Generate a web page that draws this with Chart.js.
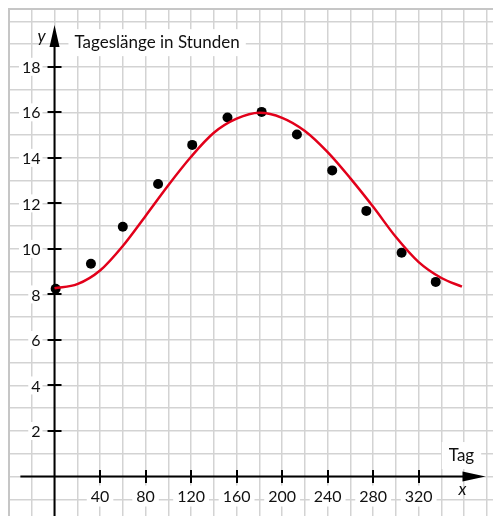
<!DOCTYPE html>
<html>
<head>
<meta charset="utf-8">
<script src="https://cdn.jsdelivr.net/npm/chart.js@4"></script>
<style>
  body { margin: 0; background: #fff; }
  canvas { display: block; }
</style>
</head>
<body>
<canvas id="grafico" width="493" height="516"></canvas>
<script>
// Messwerte (Tag des Jahres, Tageslänge in Stunden)
var messTage = [1, 32, 60, 91, 121, 152, 182, 213, 244, 274, 305, 335];
var messStunden = [8.25, 9.35, 10.97, 12.85, 14.57, 15.77, 16.02, 15.03, 13.45, 11.67, 9.83, 8.55];

var kurveTage = [0, 20, 40, 60, 80, 100, 120, 140, 160, 180, 200, 220, 240, 260, 280, 300, 320, 340, 358];
var kurveStunden = [8.27, 8.45, 9.05, 10.13, 11.45, 12.8, 14.05, 15.1, 15.72, 15.98, 15.76, 15.18, 14.25, 13.1, 11.85, 10.52, 9.42, 8.72, 8.34];

// Achsenbeschriftung
var xBeschriftung = [40, 80, 120, 160, 200, 240, 280, 320];
var yBeschriftung = [2, 4, 6, 8, 10, 12, 14, 16, 18];
var titel = 'Tageslänge in Stunden';

var schrift = 'Lato, "Open Sans", sans-serif';

var achsen = {
  id: 'achsen',
  beforeDatasetsDraw: function(chart) {
    var ctx = chart.ctx, a = chart.chartArea;
    var sx = chart.scales.x, sy = chart.scales.y;
    var x0 = sx.getPixelForValue(0), y0 = sy.getPixelForValue(0);
    ctx.save();

    // Rahmen
    ctx.strokeStyle = '#c6c6c6';
    ctx.lineWidth = 2;
    ctx.strokeRect(a.left, a.top, a.right - a.left + 5, a.bottom - a.top + 5);

    ctx.font = '16px ' + schrift;
    ctx.textBaseline = 'middle';

    // x-Beschriftung
    ctx.textAlign = 'center';
    xBeschriftung.forEach(function(v) {
      var px = sx.getPixelForValue(v);
      var w = ctx.measureText(String(v)).width;
      ctx.fillStyle = '#fff';
      ctx.fillRect(px - w / 2 - 4, y0 + 9, w + 8, 21);
      ctx.fillStyle = '#111';
      ctx.fillText(String(v), px, y0 + 20);
    });

    // y-Beschriftung
    ctx.textAlign = 'right';
    yBeschriftung.forEach(function(v) {
      var py = sy.getPixelForValue(v);
      var w = ctx.measureText(String(v)).width;
      ctx.fillStyle = '#fff';
      ctx.fillRect(x0 - 14 - w - 3, py - 9, w + 5, 18);
      ctx.fillStyle = '#111';
      ctx.fillText(String(v), x0 - 14, py + 1);
    });

    // Titel
    ctx.font = '17px ' + schrift;
    ctx.textAlign = 'left';
    ctx.textBaseline = 'alphabetic';
    var tx = sx.getPixelForValue(17.5), ty = sy.getPixelForValue(18.82);
    var tw = ctx.measureText(titel).width;
    ctx.fillStyle = '#fff';
    ctx.fillRect(tx - 6, ty - 19, tw + 12, 27);
    ctx.fillStyle = '#111';
    ctx.fillText(titel, tx, ty);

    // "Tag"
    ctx.textAlign = 'center';
    var gx = sx.getPixelForValue(357.6), gy = sy.getPixelForValue(0.68);
    var gw = ctx.measureText('Tag').width;
    ctx.fillStyle = '#fff';
    ctx.fillRect(gx - gw / 2 - 7, gy - 19, gw + 14, 27);
    ctx.fillStyle = '#111';
    ctx.fillText('Tag', gx, gy);

    // Variablen
    ctx.font = 'italic 17px ' + schrift;
    ctx.fillText('y', x0 - 13, sy.getPixelForValue(19.1));
    ctx.fillText('x', sx.getPixelForValue(358.5), y0 + 18);

    // Achsen
    ctx.strokeStyle = '#000';
    ctx.fillStyle = '#000';
    ctx.lineWidth = 2;
    var yTip = sy.getPixelForValue(19.84);
    var xTip = sx.getPixelForValue(378.7);
    var xStart = sx.getPixelForValue(-30);
    ctx.beginPath();
    ctx.moveTo(x0, a.bottom);
    ctx.lineTo(x0, yTip + 10);
    ctx.moveTo(xStart, y0);
    ctx.lineTo(xTip - 10, y0);
    // Striche
    xBeschriftung.forEach(function(v) {
      var px = Math.round(sx.getPixelForValue(v));
      ctx.moveTo(px, y0 - 6.5);
      ctx.lineTo(px, y0 + 6.5);
    });
    yBeschriftung.forEach(function(v) {
      var py = Math.round(sy.getPixelForValue(v));
      ctx.moveTo(x0 - 7, py);
      ctx.lineTo(x0 + 7, py);
    });
    ctx.stroke();

    // Pfeilspitzen
    ctx.beginPath();
    ctx.moveTo(x0, yTip);
    ctx.lineTo(x0 - 5, yTip + 22);
    ctx.lineTo(x0 + 5, yTip + 22);
    ctx.closePath();
    ctx.moveTo(xTip, y0);
    ctx.lineTo(xTip - 23, y0 - 5);
    ctx.lineTo(xTip - 23, y0 + 5);
    ctx.closePath();
    ctx.fill();
    ctx.restore();
  }
};

new Chart(document.getElementById('grafico'), {
  type: 'scatter',
  data: {
    datasets: [{
      label: 'Kurve',
      data: kurveTage.map(function(t, i) { return { x: t, y: kurveStunden[i] }; }),
      showLine: true,
      borderColor: '#e2001a',
      borderWidth: 2.5,
      pointRadius: 0,
      cubicInterpolationMode: 'monotone',
      fill: false
    }, {
      label: 'Messwerte',
      data: messTage.map(function(t, i) { return { x: t, y: messStunden[i] }; }),
      showLine: false,
      backgroundColor: '#000',
      borderColor: '#000',
      pointRadius: 5,
      borderWidth: 0
    }]
  },
  options: {
    responsive: false,
    animation: false,
    devicePixelRatio: 1,
    layout: { autoPadding: false, padding: { left: 9, top: 9, right: 0, bottom: 0 } },
    plugins: { legend: { display: false }, tooltip: { enabled: false } },
    scales: {
      x: {
        type: 'linear',
        min: -40,
        max: 385.3,
        ticks: { display: false, stepSize: 20, includeBounds: false },
        grid: { color: '#d3d3d3', lineWidth: 1.5, drawTicks: false },
        border: { display: false }
      },
      y: {
        type: 'linear',
        min: -1.735,
        max: 20.54,
        ticks: { display: false, stepSize: 1, includeBounds: false },
        grid: { color: '#d3d3d3', lineWidth: 1.5, drawTicks: false },
        border: { display: false }
      }
    }
  },
  plugins: [achsen]
});
</script>
</body>
</html>
